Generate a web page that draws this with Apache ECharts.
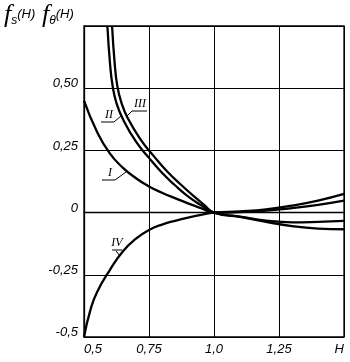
<!DOCTYPE html>
<html><head><meta charset="utf-8">
<script src="https://cdn.jsdelivr.net/npm/echarts@6/dist/echarts.min.js"></script>
<style>html,body{margin:0;padding:0;background:#fff}#c{width:350px;height:362px}</style>
</head><body><div id="c"></div>
<script>
// Tick values and labels
const xTicks = [0.5, 0.75, 1.0, 1.25, 1.5];
const xTickLabels = ['0,5', '0,75', '1,0', '1,25', 'H'];
const yTicks = [-0.5, -0.25, 0, 0.25, 0.5, 0.75];
const yTickLabels = ['-0,5', '-0,25', '0', '0,25', '0,50', ''];

// Curve I
const hI = [0.5, 0.55, 0.6, 0.65, 0.7, 0.75, 0.8, 0.85, 0.9, 0.95, 1.0, 1.1, 1.2, 1.3, 1.4, 1.5];
const fI = [0.45, 0.325, 0.237, 0.18, 0.138, 0.105, 0.08, 0.058, 0.037, 0.018, 0, 0.002, 0.008, 0.018, 0.031, 0.048];
// Curve II
const hII = [0.59, 0.6, 0.61, 0.625, 0.65, 0.7, 0.75, 0.8, 0.85, 0.9, 0.95, 1.0, 1.1, 1.2, 1.3, 1.4, 1.5];
const fII = [0.75, 0.6, 0.51, 0.44, 0.375, 0.285, 0.22, 0.16, 0.11, 0.065, 0.03, 0, -0.016, -0.032, -0.039, -0.037, -0.033];
// Curve III
const hIII = [0.608, 0.618, 0.628, 0.643, 0.668, 0.72, 0.77, 0.82, 0.87, 0.92, 0.96, 1.0, 1.1, 1.2, 1.3, 1.4, 1.5];
const fIII = [0.75, 0.6, 0.51, 0.445, 0.38, 0.29, 0.225, 0.165, 0.115, 0.068, 0.033, 0, -0.017, -0.037, -0.054, -0.064, -0.067];
// Curve IV
const hIV = [0.5, 0.525, 0.55, 0.6, 0.65, 0.7, 0.75, 0.8, 0.85, 0.9, 0.95, 1.0, 1.1, 1.2, 1.3, 1.4, 1.5];
const fIV = [-0.5, -0.39, -0.32, -0.23, -0.155, -0.105, -0.07, -0.048, -0.033, -0.02, -0.009, 0, 0.005, 0.013, 0.028, 0.048, 0.075];
// Curve labels
const curveNames = ['I', 'II', 'III', 'IV'];

const FONT = "'Liberation Sans Narrow','Liberation Sans',sans-serif";
const SERIF = "'Liberation Serif','DejaVu Serif',serif";
function pairs(h, f) { return h.map((x, i) => [x, f[i]]); }
function lab(ticks, labels) {
  return v => { const i = ticks.findIndex(t => Math.abs(t - v) < 1e-6); return i >= 0 ? labels[i] : ''; };
}
function curve(name, h, f) {
  return { name, type: 'line', data: pairs(h, f), symbol: 'none', smooth: 0.5,
    lineStyle: { color: '#000', width: 2.3 }, clip: true, silent: true };
}
const chart = echarts.init(document.getElementById('c'), null, { renderer: 'canvas' });
const lineStyle = { stroke: '#000', lineWidth: 1 };
function num(i, x, y) {
  return { type: 'text', x, y, style: { text: curveNames[i], fontSize: 12, fontStyle: 'italic', fontFamily: SERIF, fill: '#000', align: 'center', verticalAlign: 'middle' } };
}
chart.setOption({
  animation: false,
  backgroundColor: '#fff',
  grid: { left: 84, right: 6, top: 26, bottom: 25, show: true, borderColor: '#000', borderWidth: 1.3 },
  xAxis: { type: 'value', min: 0.5, max: 1.5, interval: 0.25,
    axisLine: { show: true, lineStyle: { color: '#000', width: 1.3 } }, axisTick: { show: false },
    splitLine: { show: true, lineStyle: { color: '#000', width: 1 } },
    axisLabel: { formatter: lab(xTicks, xTickLabels), color: '#000', fontStyle: 'italic', fontFamily: FONT, fontSize: 13, margin: 6,
      alignMinLabel: 'left', alignMaxLabel: 'right' } },
  yAxis: { type: 'value', min: -0.5, max: 0.75, interval: 0.25,
    axisLine: { show: true, lineStyle: { color: '#000', width: 1.3 } }, axisTick: { show: false },
    splitLine: { show: true, lineStyle: { color: '#000', width: 1 } },
    axisLabel: { formatter: lab(yTicks, yTickLabels), color: '#000', fontStyle: 'italic', fontFamily: FONT, fontSize: 13, margin: 6,
      verticalAlign: 'bottom', lineHeight: 9 } },
  series: [curve('I', hI, fI), curve('II', hII, fII), curve('III', hIII, fIII), curve('IV', hIV, fIV)],
  graphic: [
    { type: 'text', left: 4, top: 2, style: {
      text: '{f|f}{s|s}{h|(H)}  {f|f}{s|θ}{h|(H)}',
      rich: {
        f: { fontSize: 26, fontStyle: 'italic', fontFamily: SERIF, fill: '#000' },
        s: { fontSize: 12, fontStyle: 'italic', fontFamily: FONT, fill: '#000', padding: [12, 0, 0, 0] },
        h: { fontSize: 13, fontStyle: 'italic', fontFamily: FONT, fill: '#000', padding: [0, 0, 2, 0] }
      } } },
    num(0, 110, 173),
    { type: 'line', shape: { x1: 102, y1: 180, x2: 115, y2: 180 }, style: lineStyle },
    { type: 'line', shape: { x1: 115, y1: 180, x2: 126, y2: 172 }, style: lineStyle },
    num(1, 109, 115),
    { type: 'line', shape: { x1: 101, y1: 122, x2: 114, y2: 122 }, style: lineStyle },
    { type: 'line', shape: { x1: 114, y1: 122, x2: 121, y2: 116 }, style: lineStyle },
    num(2, 140, 104),
    { type: 'line', shape: { x1: 132, y1: 111, x2: 147, y2: 111 }, style: lineStyle },
    { type: 'line', shape: { x1: 132, y1: 111, x2: 127, y2: 116 }, style: lineStyle },
    num(3, 117, 243),
    { type: 'line', shape: { x1: 112, y1: 250, x2: 122, y2: 250 }, style: lineStyle },
    { type: 'line', shape: { x1: 116, y1: 251, x2: 120, y2: 256 }, style: lineStyle }
  ]
});
</script>
</body></html>
